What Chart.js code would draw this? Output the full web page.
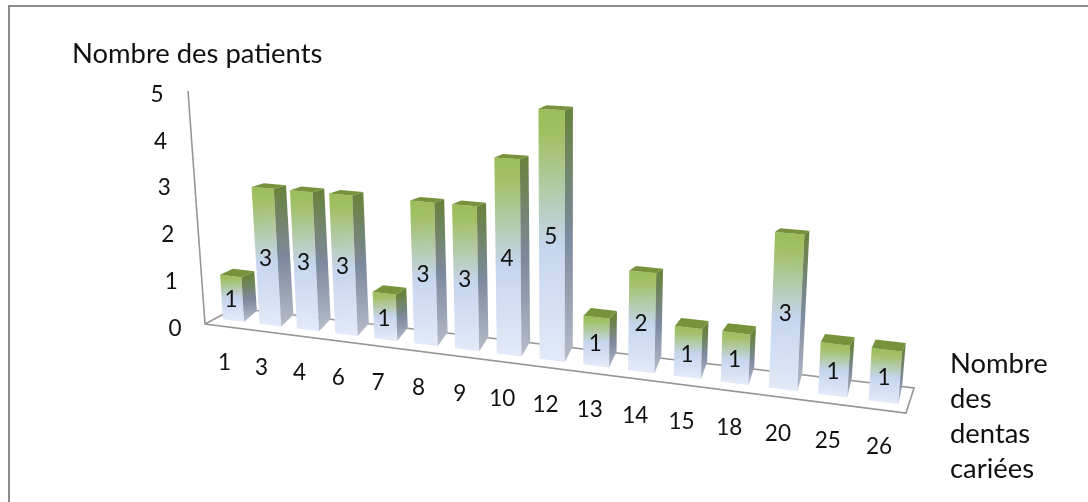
<!DOCTYPE html>
<html>
<head>
<meta charset="utf-8">
<style>
  html, body { margin: 0; padding: 0; background: #fff; }
  #wrap { width: 1088px; height: 502px; }
</style>
<script src="https://cdn.jsdelivr.net/npm/chart.js@4/dist/chart.umd.js"></script>
</head>
<body>
<div id="wrap"><canvas id="c" width="1088" height="502"></canvas></div>
<script>
const categories = ['1', '3', '4', '6', '7', '8', '9', '10', '12', '13', '14', '15', '18', '20', '25', '26']
const patients = [1, 3, 3, 3, 1, 3, 3, 4, 5, 1, 2, 1, 1, 3, 1, 1]
const yTicks = [0, 1, 2, 3, 4, 5]
const yTitle = 'Nombre des patients'
const xTitle = ['Nombre', 'des', 'dentas', 'cariées']

const FONT = '22.5px Lato, Carlito, Calibri, sans-serif'
const TITLE_FONT = '27.4px Lato, Carlito, Calibri, sans-serif'
const AXIS_COLOR = '#969696'

// perspective of the front plane of the bars (first/last bar, value 0 and value 5)
const plane = {
    a: [233.5, 320.5], b: [883.5, 402],
    c: [219, 90], d: [900.5, 130]
}

function squareToQuad({ a, b, c, d }) {
    const dx1 = b[0] - d[0], dx2 = c[0] - d[0], sx = a[0] - b[0] + d[0] - c[0]
    const dy1 = b[1] - d[1], dy2 = c[1] - d[1], sy = a[1] - b[1] + d[1] - c[1]
    const den = dx1 * dy2 - dx2 * dy1
    const g = (sx * dy2 - dx2 * sy) / den
    const h = (dx1 * sy - sx * dy1) / den
    return {
        g, h,
        m: [b[0] - a[0] + g * b[0], c[0] - a[0] + h * c[0], a[0],
            b[1] - a[1] + g * b[1], c[1] - a[1] + h * c[1], a[1]]
    }
}
const H = squareToQuad(plane)

function project(u, v) {
    const w = H.g * u + H.h * v + 1
    return [(H.m[0] * u + H.m[1] * v + H.m[2]) / w, (H.m[3] * u + H.m[4] * v + H.m[5]) / w]
}

// offset from the front face to the back face of a bar
function depth(u, v) {
    const floor = 11 + 8 * u
    return [13 - 9 * u, -(3.5 + (floor - 3.5) * Math.pow(1 - v, 5))]
}

let toUV = null

function path(ctx, pts) {
    ctx.beginPath()
    pts.forEach((p, i) => i ? ctx.lineTo(p[0], p[1]) : ctx.moveTo(p[0], p[1]))
    ctx.closePath()
}

function grad(ctx, from, to, stops) {
    const g = ctx.createLinearGradient(from[0], from[1], to[0], to[1])
    stops.forEach(s => g.addColorStop(s[0], s[1]))
    return g
}

class Bar3dElement extends Chart.BarElement {
    draw(ctx) {
        const half = this.width / 2
        const [u0, v] = toUV(this.x - half, this.y)
        const [u1, v0] = toUV(this.x + half, this.base)
        const tl = project(u0, v), tr = project(u1, v)
        const bl = project(u0, v0), br = project(u1, v0)
        const dt = depth(u1, v), db = depth(u1, v0)
        const add = (p, d) => [p[0] + d[0], p[1] + d[1]]

        ctx.save()
        path(ctx, [tl, tr, br, bl])
        ctx.fillStyle = grad(ctx, tl, bl, [[0, '#9bbd59'], [0.12, '#a2c168'], [0.55, '#c6d5ee'], [1, '#e2e9f8']])
        ctx.fill()

        path(ctx, [tr, add(tr, dt), add(br, db), br])
        ctx.fillStyle = grad(ctx, tr, br, [[0, '#67833c'], [0.5, '#7c899e'], [1, '#b6bbc8']])
        ctx.fill()

        path(ctx, [tl, tr, add(tr, dt), add(tl, dt)])
        ctx.fillStyle = '#76933c'
        ctx.fill()
        ctx.restore()
    }
}
Bar3dElement.id = 'bar3d'
Bar3dElement.defaults = Chart.BarElement.defaults
Bar3dElement.defaultRoutes = Chart.BarElement.defaultRoutes

class Bar3dController extends Chart.BarController {}
Bar3dController.id = 'bar3dColumn'
Bar3dController.defaults = { dataElementType: 'bar3d' }
Bar3dController.overrides = Chart.BarController.overrides

Chart.register(Bar3dElement, Bar3dController)

const scene = {
    id: 'scene',
    beforeDatasetsDraw(chart) {
        const { ctx, scales: { x, y } } = chart
        const first = x.getPixelForValue(0), last = x.getPixelForValue(categories.length - 1)
        const y0 = y.getPixelForValue(0), y1 = y.getPixelForValue(yTicks[yTicks.length - 1])
        toUV = (px, py) => [(px - first) / (last - first), (y0 - py) / (y0 - y1)]

        // frame of the picture, only top and left
        ctx.save()
        ctx.strokeStyle = '#8c8c8c'
        ctx.lineWidth = 2
        ctx.beginPath()
        ctx.moveTo(9, 502)
        ctx.lineTo(9, 6)
        ctx.lineTo(1088, 6)
        ctx.stroke()

        // floor and vertical axis
        ctx.strokeStyle = AXIS_COLOR
        ctx.lineWidth = 1.6
        ctx.beginPath()
        ctx.moveTo(188, 91)
        ctx.lineTo(205, 324)
        ctx.lineTo(906, 413)
        ctx.lineTo(914, 388)
        ctx.lineTo(235, 308)
        ctx.lineTo(205, 324)
        ctx.stroke()
        ctx.restore()
    },
    afterDatasetsDraw(chart) {
        const { ctx, scales: { x, y } } = chart
        const y0 = y.getPixelForValue(0), y1 = y.getPixelForValue(yTicks[yTicks.length - 1])
        ctx.save()
        ctx.fillStyle = '#111'
        ctx.textAlign = 'center'
        ctx.textBaseline = 'middle'
        ctx.font = FONT

        // y ticks follow the leaning axis
        yTicks.forEach(t => {
            const py = y.getPixelForValue(t)
            ctx.fillText(String(t), 175 - 18 * (y0 - py) / (y0 - y1), py + 1.5)
        })

        // value labels and category labels
        chart.getDatasetMeta(0).data.forEach((bar, i) => {
            const [u, v] = toUV(bar.x, bar.y)
            const top = project(u, v), base = project(u, 0)
            ctx.fillText(String(patients[i]), (top[0] + base[0]) / 2 - 1, (top[1] + base[1]) / 2 + 2)
            ctx.fillText(categories[i], base[0] - 9 + 4.5 * u, base[1] + 42.5 + 2.5 * u)
        })

        // axis titles
        ctx.font = TITLE_FONT
        ctx.textAlign = 'left'
        ctx.fillText(yTitle, 72, 54)
        xTitle.forEach((line, i) => ctx.fillText(line, 950, 364 + i * 35.2))
        ctx.restore()
    }
}

new Chart(document.getElementById('c'), {
    type: 'bar3dColumn',
    data: {
        labels: categories,
        datasets: [{ data: patients, clip: false, barPercentage: 0.58, categoryPercentage: 1 }]
    },
    options: {
        responsive: false,
        animation: false,
        layout: { padding: { top: 93, bottom: 175, left: 190, right: 183 } },
        plugins: { legend: { display: false }, tooltip: { enabled: false } },
        scales: {
            x: { type: 'category', display: false },
            y: { display: false, min: 0, max: 5, ticks: { stepSize: 1 } }
        }
    },
    plugins: [scene]
})
</script>
</body>
</html>
